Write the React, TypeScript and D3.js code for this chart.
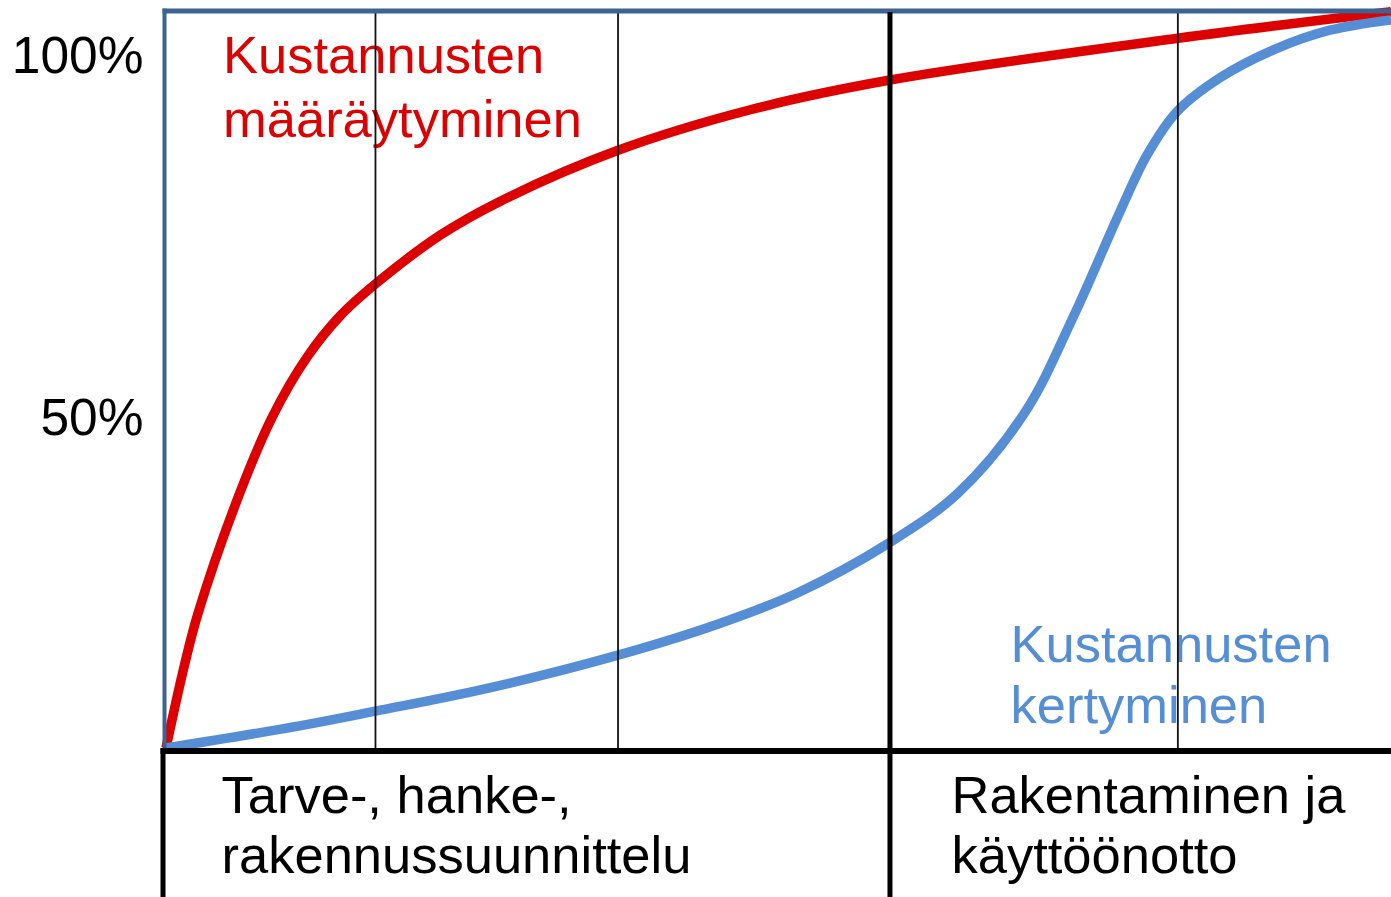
import * as d3 from 'd3';
import React, { useEffect, useRef } from 'react';

// Kustannusten määräytyminen (punainen) – x: hankkeen eteneminen %, y: %
const redX = [0, 1.4, 2.6, 6.0, 8.7, 11.5, 14.2, 17.2, 22.4, 27.3, 36.9, 47.7, 59.0, 82.6, 100];
const redY = [0, 10.5, 18.2, 34.5, 45.0, 53.0, 58.6, 63.1, 69.6, 74.2, 81.1, 86.6, 90.6, 96.3, 99.9];

// Kustannusten kertyminen (sininen)
const blueX = [0, 10.9, 17.1, 26.5, 36.9, 45.2, 51.5, 59.0, 64.6, 70.1, 74.2, 77.8, 80.1, 82.5, 86.1, 90.5, 95.0, 100];
const blueY = [0, 3.0, 5.0, 8.2, 12.6, 16.9, 21.0, 27.8, 34.5, 45.5, 59.0, 72.5, 80.5, 86.3, 91.0, 94.8, 97.4, 98.8];

const thinLines = [17.1, 36.9, 82.6];
const phaseBoundary = 59.1;

const yTicks = [100, 50];
const yTickLabels = ['100%', '50%'];

const redLabel = ['Kustannusten', 'määräytyminen'];
const blueLabel = ['Kustannusten', 'kertyminen'];
const phase1Label = ['Tarve-, hanke-,', 'rakennussuunnittelu'];
const phase2Label = ['Rakentaminen ja', 'käyttöönotto'];

const RED = '#dc0000';
const BLUE = '#558ed5';
const FRAME = '#3d6393';
const FONT = '"Liberation Sans", Arial, sans-serif';

const App = () => {
  const svgRef = useRef<SVGSVGElement>(null);

  useEffect(() => {
    const width = 1391;
    const height = 897;

    const svg = d3.select(svgRef.current).attr('width', width).attr('height', height);
    svg.selectAll('*').remove();

    const xScale = d3.scaleLinear().domain([0, 100]).range([166, 1391]);
    const yScale = d3.scaleLinear().domain([0, 100]).range([748, 11]);

    const txt = (lines: string[], x: number, y0: number, step: number, color: string) => {
      const t = svg
        .append('text')
        .attr('font-family', FONT)
        .attr('font-size', 52.5)
        .attr('fill', color);
      lines.forEach((l, i) => {
        t.append('tspan').attr('x', x).attr('y', y0 + i * step).text(l);
      });
    };

    // tekstit
    txt(redLabel, 223, 72.7, 64, RED);
    txt(blueLabel, 1010.5, 661.7, 61.5, BLUE);
    txt(phase1Label, 221.5, 813.3, 60, '#000');
    txt(phase2Label, 951.5, 813.3, 60, '#000');

    // y-akselin tekstit
    svg
      .selectAll('text.ytick')
      .data(yTicks)
      .enter()
      .append('text')
      .attr('class', 'ytick')
      .attr('x', 143.5)
      .attr('y', (d) => yScale(d) + (d === 100 ? 62 : 55.5))
      .attr('text-anchor', 'end')
      .attr('font-family', FONT)
      .attr('font-size', 51.5)
      .attr('fill', '#000')
      .text((d, i) => yTickLabels[i]);

    // käyrät
    const line = d3
      .line<[number, number]>()
      .x((d) => xScale(d[0]))
      .y((d) => yScale(d[1]))
      .curve(d3.curveCatmullRom.alpha(0.5));

    const redData = redX.map((x, i) => [x, redY[i]] as [number, number]);
    const blueData = blueX.map((x, i) => [x, blueY[i]] as [number, number]);

    svg
      .append('path')
      .datum(redData)
      .attr('d', line)
      .attr('fill', 'none')
      .attr('stroke', RED)
      .attr('stroke-width', 9.5);

    svg
      .append('path')
      .datum(blueData)
      .attr('d', line)
      .attr('fill', 'none')
      .attr('stroke', BLUE)
      .attr('stroke-width', 9.5);

    // pystyviivat
    svg
      .selectAll('line.grid')
      .data(thinLines)
      .enter()
      .append('line')
      .attr('class', 'grid')
      .attr('x1', (d) => xScale(d))
      .attr('x2', (d) => xScale(d))
      .attr('y1', yScale(100))
      .attr('y2', yScale(0))
      .attr('stroke', '#111')
      .attr('stroke-width', 1.8);

    // kehys
    svg
      .append('line')
      .attr('x1', xScale(0) - 1.5)
      .attr('x2', xScale(0) - 1.5)
      .attr('y1', yScale(100) - 2.5)
      .attr('y2', yScale(0))
      .attr('stroke', FRAME)
      .attr('stroke-width', 4);

    svg
      .append('line')
      .attr('x1', xScale(0) - 3.5)
      .attr('x2', width)
      .attr('y1', yScale(100))
      .attr('y2', yScale(100))
      .attr('stroke', FRAME)
      .attr('stroke-width', 5);

    // vaiheiden raja
    svg
      .append('line')
      .attr('x1', xScale(phaseBoundary))
      .attr('x2', xScale(phaseBoundary))
      .attr('y1', yScale(100) + 1)
      .attr('y2', height)
      .attr('stroke', '#000')
      .attr('stroke-width', 5);

    // alaosan laatikko
    svg
      .append('line')
      .attr('x1', 160.5)
      .attr('x2', width)
      .attr('y1', yScale(0) + 3)
      .attr('y2', yScale(0) + 3)
      .attr('stroke', '#000')
      .attr('stroke-width', 6);

    svg
      .append('line')
      .attr('x1', 163)
      .attr('x2', 163)
      .attr('y1', yScale(0))
      .attr('y2', height)
      .attr('stroke', '#000')
      .attr('stroke-width', 5);
  }, []);

  return (
    <svg
      ref={svgRef}
      style={{ position: 'absolute', left: 0, top: 0, background: '#fff', display: 'block' }}
    />
  );
};

export default App;
